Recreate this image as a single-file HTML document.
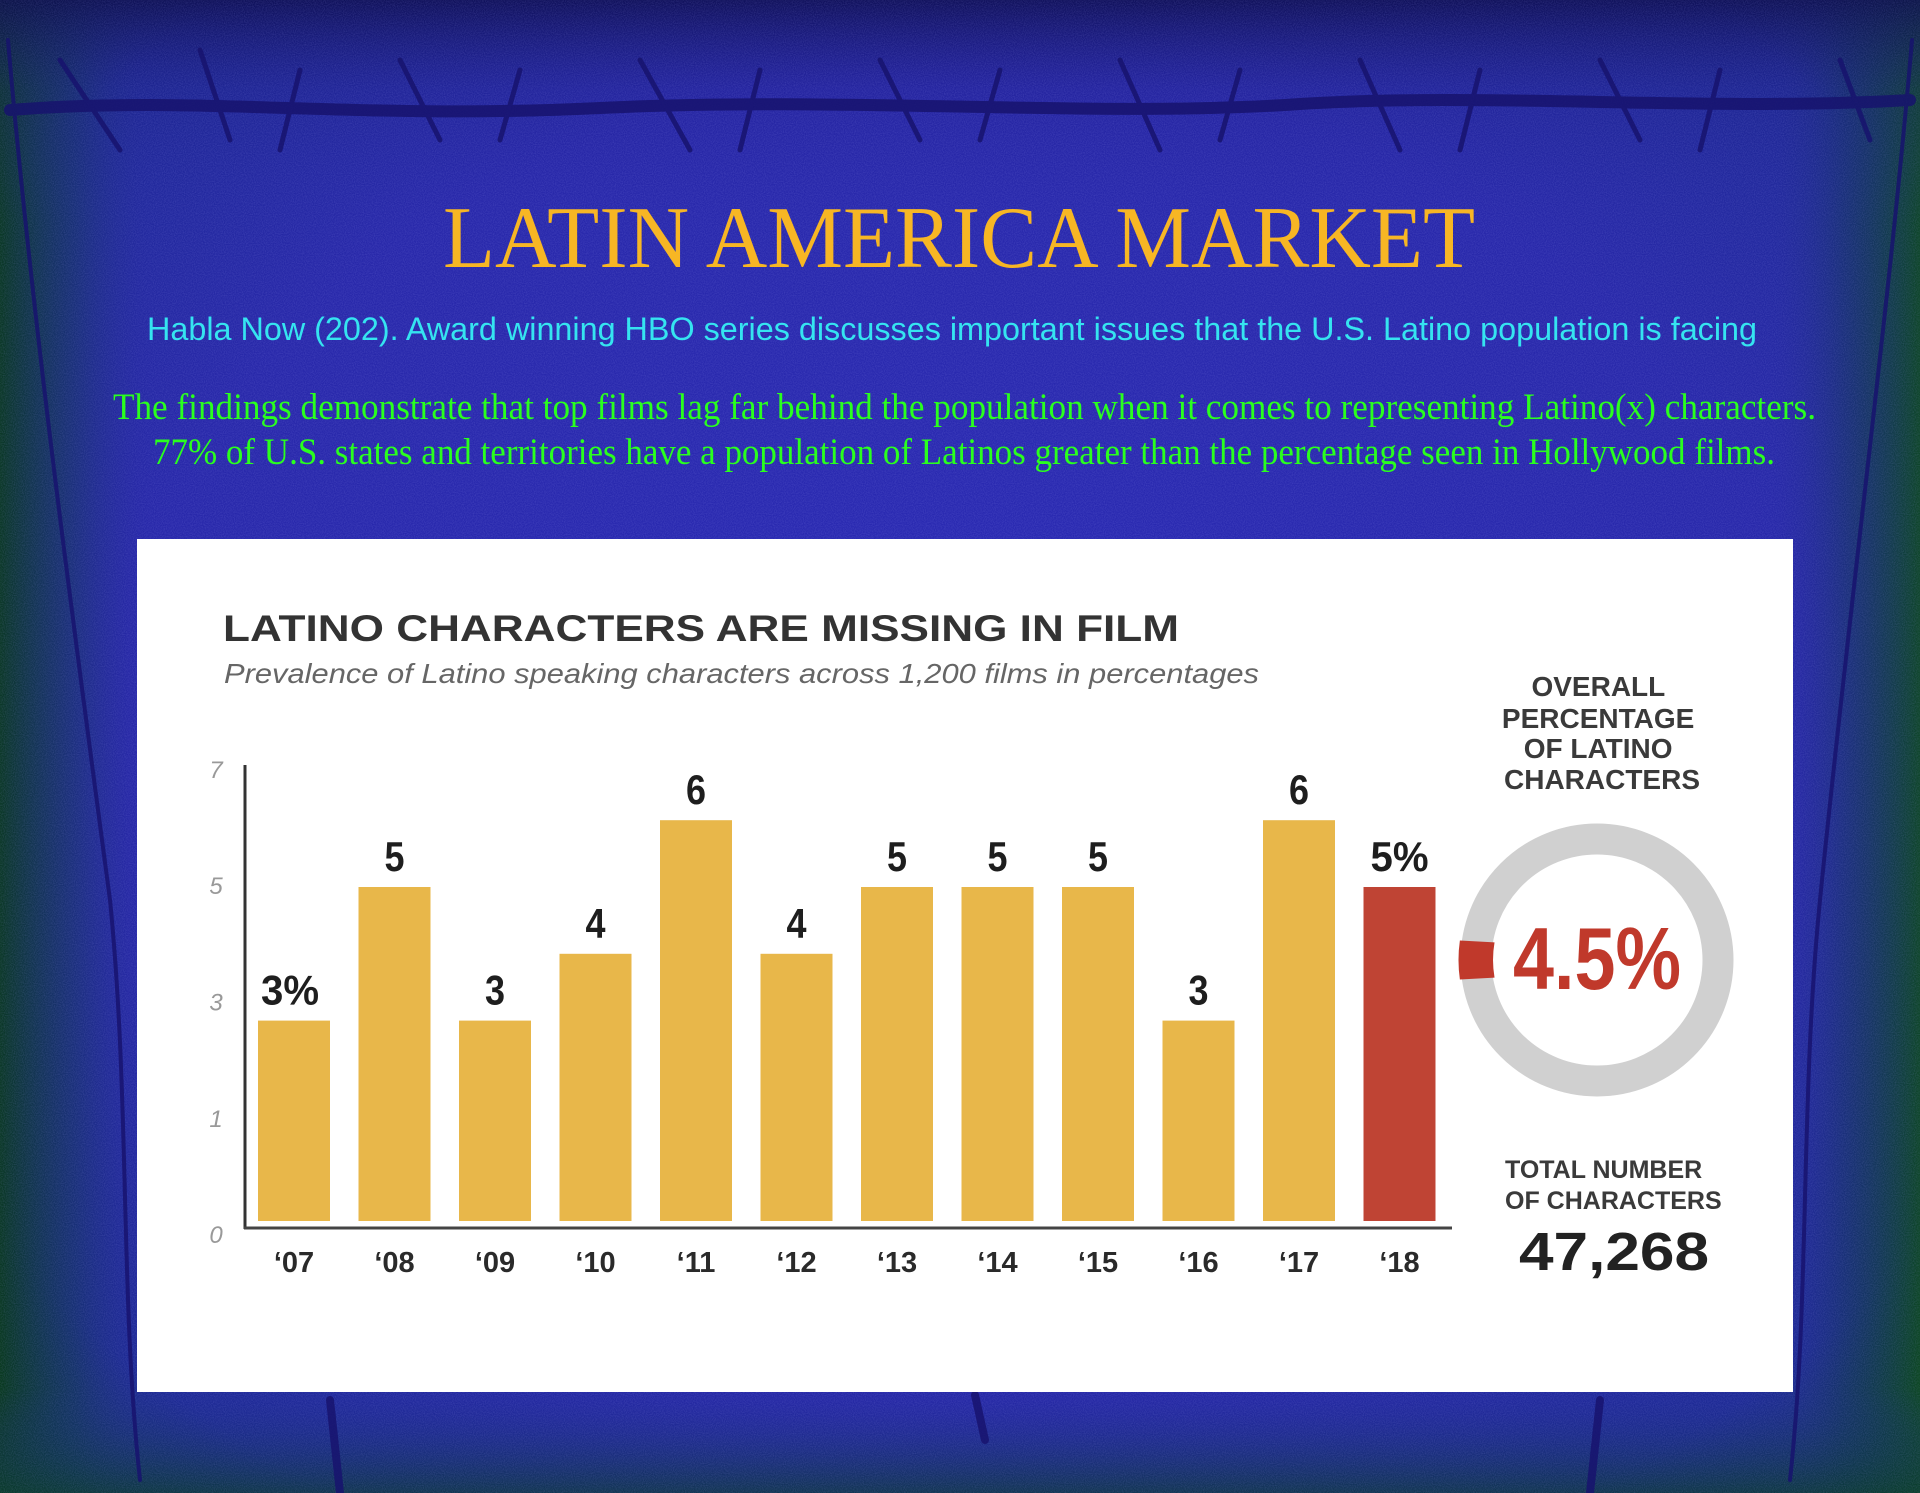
<!DOCTYPE html>
<html><head><meta charset="utf-8">
<style>
html,body{margin:0;padding:0;width:1920px;height:1493px;overflow:hidden;background:#2424a0;}
svg{display:block}
</style></head>
<body>
<svg id="page" width="1920" height="1493" viewBox="0 0 1920 1493" xmlns="http://www.w3.org/2000/svg">
<defs>
  <radialGradient id="bgc" cx="50%" cy="48%" r="72%">
    <stop offset="0" stop-color="#2a2ab4"/>
    <stop offset="0.6" stop-color="#2828aa"/>
    <stop offset="0.85" stop-color="#1e2a96"/>
    <stop offset="1" stop-color="#0f3a4a"/>
  </radialGradient>
  <linearGradient id="lg" x1="0" x2="1" y1="0" y2="0">
    <stop offset="0" stop-color="#063a10" stop-opacity="0.85"/>
    <stop offset="0.04" stop-color="#0a3a3a" stop-opacity="0.35"/>
    <stop offset="0.08" stop-color="#2626a6" stop-opacity="0"/>
    <stop offset="0.92" stop-color="#2626a6" stop-opacity="0"/>
    <stop offset="0.96" stop-color="#0a3a3a" stop-opacity="0.35"/>
    <stop offset="1" stop-color="#0a4a14" stop-opacity="0.85"/>
  </linearGradient>
  <linearGradient id="tg" x1="0" x2="0" y1="0" y2="1">
    <stop offset="0" stop-color="#0d0d50" stop-opacity="0.85"/>
    <stop offset="0.06" stop-color="#1a1a80" stop-opacity="0.25"/>
    <stop offset="0.15" stop-color="#2626a6" stop-opacity="0"/>
    <stop offset="0.93" stop-color="#1a2a90" stop-opacity="0"/>
    <stop offset="1" stop-color="#0a3a30" stop-opacity="0.7"/>
  </linearGradient>
  <filter id="noise" x="0" y="0" width="100%" height="100%">
    <feTurbulence type="fractalNoise" baseFrequency="0.9" numOctaves="1" seed="3"/>
    <feColorMatrix type="matrix" values="0 0 0 0 0.4  0 0 0 0 0.4  0 0 0 0 0.95  0 0 0 0.9 -0.3"/>
  </filter>
</defs>
<rect width="1920" height="1493" fill="url(#bgc)"/>
<rect width="1920" height="1493" fill="url(#lg)"/>
<rect width="1920" height="1493" fill="url(#tg)"/>
<rect width="1920" height="1493" filter="url(#noise)" opacity="0.35"/>
<g stroke="#17136e" fill="none" stroke-linecap="round" opacity="0.85">
  <path d="M10 110 C200 95 350 120 600 108 C850 96 1100 118 1300 104 C1500 92 1700 112 1910 100" stroke-width="12"/>
  <path d="M60 60 L120 150 M200 50 L230 140 M300 70 L280 150 M400 60 L440 140 M520 70 L500 140 M640 60 L690 150 M760 70 L740 150 M880 60 L920 140 M1000 70 L980 140 M1120 60 L1160 150 M1240 70 L1220 140 M1360 60 L1400 150 M1480 70 L1460 150 M1600 60 L1640 140 M1720 70 L1700 150 M1840 60 L1870 140" stroke-width="5"/>
  <path d="M8 40 C30 300 70 600 110 900 C130 1100 120 1300 140 1480" stroke-width="4"/>
  <path d="M1912 40 C1890 300 1850 600 1820 900 C1800 1100 1810 1300 1790 1480" stroke-width="4"/>
  <path d="M330 1400 L340 1493 M975 1395 L985 1440 M1600 1400 L1590 1493" stroke-width="8"/>
</g>
<text x="443" y="267" textLength="1032" lengthAdjust="spacingAndGlyphs" font-family="Liberation Serif, serif" font-size="88" fill="#f7b624">LATIN AMERICA MARKET</text>
<text x="147" y="340" textLength="1610" lengthAdjust="spacingAndGlyphs" font-family="Liberation Sans, sans-serif" font-size="32" fill="#35e4f0">Habla Now (202). Award winning HBO series discusses important issues that the U.S. Latino population is facing</text>
<text x="113" y="419" textLength="1703" lengthAdjust="spacingAndGlyphs" font-family="Liberation Serif, serif" font-size="37" fill="#2aff1e">The findings demonstrate that top films lag far behind the population when it comes to representing Latino(x) characters.</text>
<text x="153" y="464" textLength="1622" lengthAdjust="spacingAndGlyphs" font-family="Liberation Serif, serif" font-size="37" fill="#2aff1e">77% of U.S. states and territories have a population of Latinos greater than the percentage seen in Hollywood films.</text>

<g>
  <rect x="137" y="539" width="1656" height="853" fill="#ffffff"/>
  <text x="223" y="641" textLength="956" lengthAdjust="spacingAndGlyphs" font-family="Liberation Sans, sans-serif" font-weight="bold" font-size="37" fill="#333333">LATINO CHARACTERS ARE MISSING IN FILM</text>
  <text x="224" y="683" textLength="1035" lengthAdjust="spacingAndGlyphs" font-family="Liberation Sans, sans-serif" font-style="italic" font-size="28" fill="#666666">Prevalence of Latino speaking characters across 1,200 films in percentages</text>
  <g id="bars"></g>

  <text font-family="Liberation Sans, sans-serif" font-weight="bold" font-size="28" fill="#3a3a3a" text-anchor="middle">
    <tspan x="1602" y="696">OVERALL</tspan>
    <tspan x="1602" y="728">PERCENTAGE</tspan>
    <tspan x="1602" y="758">OF LATINO</tspan>
    <tspan x="1602" y="789">CHARACTERS</tspan>
  </text>
  <g id="donut"></g>
  <text font-family="Liberation Sans, sans-serif" font-weight="bold" font-size="25" fill="#3a3a3a">
    <tspan x="1505" y="1178">TOTAL NUMBER</tspan>
    <tspan x="1505" y="1209">OF CHARACTERS</tspan>
  </text>
  <text x="1519" y="1270" textLength="190" lengthAdjust="spacingAndGlyphs" font-family="Liberation Sans, sans-serif" font-weight="bold" font-size="54" fill="#222222">47,268</text>
</g>
</svg>
<script>
const categories = ["‘07","‘08","‘09","‘10","‘11","‘12","‘13","‘14","‘15","‘16","‘17","‘18"];
const values = [3,5,3,4,6,4,5,5,5,3,6,5];
const valueLabels = ["3%","5","3","4","6","4","5","5","5","3","6","5%"];
const yTicks = [0,1,3,5,7];
const overallPct = [4.5];

const NS = "http://www.w3.org/2000/svg";
const g = document.getElementById("bars");
const baseY = 1221, unit = 66.8;
const x0 = 258, step = 100.5, barW = 72;
function yScale(v){ return baseY - v*unit; }
function xScale(i){ return x0 + i*step; }
// tick-label axis as printed in the source graphic (labels 1..7 evenly spaced, 0 at the baseline)
function tickY(v){ return v === 0 ? 1243 : 1127 - (v-1)*58.2; }
function mk(tag, attrs){ const e=document.createElementNS(NS,tag); for(const k in attrs) e.setAttribute(k,attrs[k]); return e; }

const yAxis = mk("line",{x1:245,y1:765,x2:245,y2:1229,stroke:"#333",["stroke-width"]:3});


g.appendChild(yAxis);
const xAxis = mk("line",{x1:244,y1:1228,x2:1452,y2:1228,stroke:"#444",["stroke-width"]:3});


g.appendChild(xAxis);

yTicks.forEach(t=>{
  const tx = mk("text",{x:216,y:tickY(t),"text-anchor":"middle","font-family":"Liberation Sans, sans-serif","font-style":"italic","font-size":"24",fill:"#999"});
  tx.textContent = String(t);
  
  
  g.appendChild(tx);
});

values.forEach((v,i)=>{
  const last = i===values.length-1;
  const r = mk("rect",{x:xScale(i),y:yScale(v),width:barW,height:baseY-yScale(v),fill:last?"#bf4434":"#e8b74a"});
  
  
  g.appendChild(r);
  const cx = xScale(i)+barW/2;
  const txt = valueLabels[i];
  const lbl = mk("text",{x:cx+(i===0?-4:0),y:yScale(v)-16,"text-anchor":"middle","font-family":"Liberation Sans Narrow, Liberation Sans, sans-serif","font-weight":"bold","font-size":"42",fill:"#1e1e1e",textLength:txt.length>1?58:20,lengthAdjust:"spacingAndGlyphs"});
  lbl.textContent = txt;
  
  
  g.appendChild(lbl);
  const xl = mk("text",{x:cx,y:1272,"text-anchor":"middle","font-family":"Liberation Sans, sans-serif","font-weight":"bold","font-size":"29",fill:"#2a2a2a"});
  xl.textContent = categories[i];
  
  
  g.appendChild(xl);
});

const d = document.getElementById("donut");
const cxD=1597, cyD=960, rD=121, sw=31;
const ring = mk("circle",{cx:cxD,cy:cyD,r:rD,fill:"none",stroke:"#d0d0d0","stroke-width":sw});


d.appendChild(ring);
const ang = overallPct[0]/100*2*Math.PI;
const ro=rD+sw/2+2, ri=rD-sw/2-2, a0=Math.PI-ang/2, a1=Math.PI+ang/2;
const p = `M${cxD+ro*Math.cos(a0)} ${cyD-ro*Math.sin(a0)} A${ro} ${ro} 0 0 0 ${cxD+ro*Math.cos(a1)} ${cyD-ro*Math.sin(a1)} L${cxD+ri*Math.cos(a1)} ${cyD-ri*Math.sin(a1)+3} A${ri} ${ri} 0 0 1 ${cxD+ri*Math.cos(a0)} ${cyD-ri*Math.sin(a0)-3} Z`;
const wedge = mk("path",{d:p,fill:"#c0392b"});


d.appendChild(wedge);
const pt = mk("text",{x:1513,y:989,textLength:168,lengthAdjust:"spacingAndGlyphs","font-family":"Liberation Sans Narrow, Liberation Sans, sans-serif","font-weight":"bold","font-size":"88",fill:"#c0392b"});
pt.textContent = overallPct[0]+"%";


d.appendChild(pt);
</script>
</body></html>
